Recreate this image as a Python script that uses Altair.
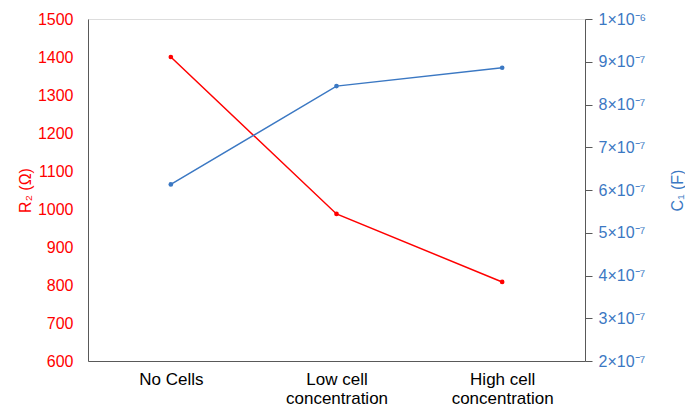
import altair as alt
import pandas as pd

categories = ["No Cells", "Low cell\nconcentration", "High cell\nconcentration"]
r2_values = [1400, 987, 808]
c1_values = [6.13e-7, 8.43e-7, 8.86e-7]
r2_ticks = [600, 700, 800, 900, 1000, 1100, 1200, 1300, 1400, 1500]
c1_ticks = [2e-7, 3e-7, 4e-7, 5e-7, 6e-7, 7e-7, 8e-7, 9e-7, 1e-6]

df = pd.DataFrame({"cat": categories, "r2": r2_values, "c1": c1_values})

RED = "#FF0000"
BLUE = "#3B78C3"
FONT = "Liberation Sans"

x = alt.X(
    "cat:N",
    sort=categories,
    title=None,
    scale=alt.Scale(paddingOuter=0.5, paddingInner=1),
    axis=alt.Axis(
        labelAngle=0,
        labelExpr="split(datum.label, '\\n')",
        labelFont=FONT,
        labelFontSize=17,
        labelColor="#000000",
        labelPadding=10,
        labelLineHeight=19,
        labelBaseline="top",
        ticks=False,
        domainColor="#595959",
        domainWidth=1,
        grid=False,
    ),
)

red_base = alt.Chart(df).encode(
    x=x,
    y=alt.Y(
        "r2:Q",
        title="R₂ (Ω)",
        scale=alt.Scale(domain=[600, 1500], nice=False, zero=False),
        axis=alt.Axis(
            values=r2_ticks,
            format="d",
            ticks=False,
            labelFont=FONT,
            labelFontSize=16,
            labelColor=RED,
            labelPadding=15,
            titleFont=FONT,
            titleFontSize=16,
            titleFontWeight="normal",
            titleColor=RED,
            titlePadding=4,
            domainColor="#595959",
            grid=False,
        ),
    ),
)
red = red_base.mark_line(color=RED, strokeWidth=1.5) + red_base.mark_point(
    color=RED, filled=True, size=22, opacity=1
)

label_expr = (
    "datum.value >= 9.99e-7 ? '1×10⁻⁶' : "
    "format(round(datum.value * 1e7), 'd') + '×10⁻⁷'"
)

blue_base = alt.Chart(df).encode(
    x=x,
    y=alt.Y(
        "c1:Q",
        title="C₁ (F)",
        scale=alt.Scale(domain=[2e-7, 1e-6], nice=False, zero=False),
        axis=alt.Axis(
            orient="right",
            values=c1_ticks,
            labelExpr=label_expr,
            tickSize=7,
            tickColor="#595959",
            labelFont=FONT,
            labelFontSize=16,
            labelColor=BLUE,
            labelPadding=6,
            titleFont=FONT,
            titleFontSize=16,
            titleFontWeight="normal",
            titleColor=BLUE,
            titleAngle=270,
            titlePadding=40,
            domainColor="#595959",
            grid=False,
        ),
    ),
)
blue = blue_base.mark_line(color=BLUE, strokeWidth=1.5) + blue_base.mark_point(
    color=BLUE, filled=True, size=22, opacity=1
)

chart = (
    alt.layer(red, blue)
    .resolve_scale(y="independent")
    .properties(
        width=497,
        height=342,
        autosize=alt.AutoSizeParams(type="none"),
        padding={"left": 88, "top": 19, "right": 100, "bottom": 49},
    )
    .configure_view(stroke=None)
    .configure(background="white")
)

chart.save("out.html", embed_options={"renderer": "svg", "actions": False})
